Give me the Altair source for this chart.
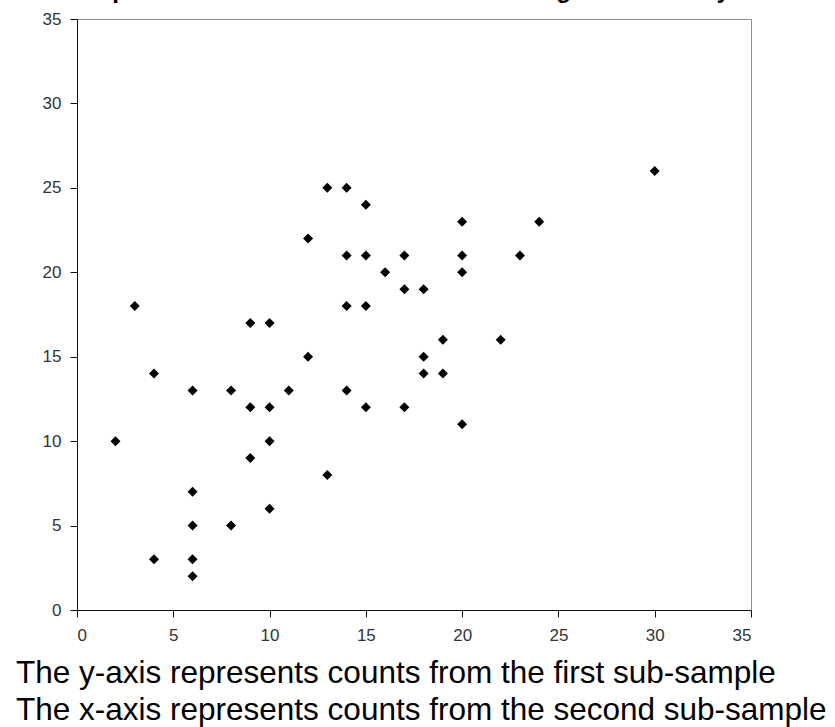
import altair as alt
import pandas as pd

# Counts from the second sub-sample (x) and the first sub-sample (y)
x_counts = [2, 3, 4, 4, 6, 6, 6, 6, 6, 8, 8, 9, 9, 9, 10, 10, 10, 10, 11, 12, 12,
            13, 13, 14, 14, 14, 14, 15, 15, 15, 15, 16, 17, 17, 17, 18, 18, 18,
            19, 19, 20, 20, 20, 20, 22, 23, 24, 30]
y_counts = [10, 18, 14, 3, 13, 7, 5, 3, 2, 13, 5, 17, 12, 9, 17, 12, 10, 6, 13, 22, 15,
            25, 8, 25, 21, 18, 13, 24, 21, 18, 12, 20, 21, 19, 12, 19, 15, 14,
            16, 14, 23, 21, 20, 11, 16, 21, 23, 26]

axis_ticks = [0, 5, 10, 15, 20, 25, 30, 35]
title_text = ["Comparison of counts from two visits during the same day"]
caption_text = ["The y-axis represents counts from the first sub-sample\n"
                "The x-axis represents counts from the second sub-sample"]

df = pd.DataFrame({"second": x_counts, "first": y_counts})

points = alt.Chart(df).mark_point(
    shape="diamond", filled=True, size=100, color="black", opacity=1
).encode(
    x=alt.X("second:Q", scale=alt.Scale(domain=[0, 35], nice=False, zero=True),
            axis=alt.Axis(values=axis_ticks, title=None, labelPadding=10)),
    y=alt.Y("first:Q", scale=alt.Scale(domain=[0, 35], nice=False, zero=True),
            axis=alt.Axis(values=axis_ticks, title=None, labelPadding=9)),
)

title_layer = alt.Chart(pd.DataFrame({"t": title_text})).mark_text(
    align="left", baseline="alphabetic", fontSize=24, fontWeight="bold",
    font="Liberation Sans", color="black"
).encode(text="t:N", x=alt.value(-18), y=alt.value(-21))

caption_layer = alt.Chart(pd.DataFrame({"t": caption_text})).mark_text(
    align="left", baseline="alphabetic", fontSize=31.5, font="Liberation Sans",
    color="black", lineBreak="\n", lineHeight=37
).encode(text="t:N", x=alt.value(-61), y=alt.value(664))

chart = alt.layer(points, title_layer, caption_layer).properties(
    width=674, height=591,
    autosize=alt.AutoSizeParams(type="none"),
    padding={"left": 77, "top": 19, "right": 84, "bottom": 117},
    background="white",
).configure_view(
    stroke="#8c8c8c", strokeWidth=1
).configure_axis(
    grid=False, domainColor="#111", domainWidth=1, tickColor="#111", tickSize=7,
    tickWidth=1, labelFont="Liberation Sans", labelFontSize=17, labelColor="#333",
)

chart.save("out.html", embed_options={"renderer": "svg", "actions": False})
